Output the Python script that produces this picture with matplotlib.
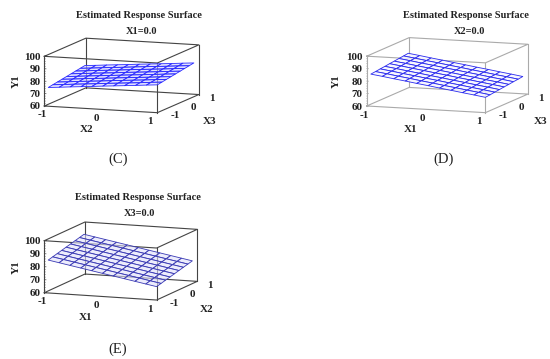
#!/usr/bin/env python3
# Estimated response surfaces, panels C, D, E
import numpy as np
import matplotlib
matplotlib.use("Agg")
import matplotlib.pyplot as plt
from mpl_toolkits.mplot3d import proj3d

plt.rcParams['font.family'] = ['Liberation Serif', 'DejaVu Serif']

W, H = 550, 359

# Grid of the fitted surface (coded factors)
grid_first = np.linspace(-0.93, 1, 11)
grid_second = np.linspace(-1, 0.76, 9)

# Y1, one row per step of the second factor
Y1_C = [[75.1, 75.8, 76.6, 77.3, 78.0, 78.8, 79.5, 80.2, 80.9, 81.7, 82.4],
        [75.7, 76.4, 77.2, 77.9, 78.6, 79.4, 80.1, 80.8, 81.5, 82.3, 83.0],
        [76.3, 77.0, 77.8, 78.5, 79.2, 80.0, 80.7, 81.4, 82.1, 82.9, 83.6],
        [76.9, 77.6, 78.4, 79.1, 79.8, 80.6, 81.3, 82.0, 82.7, 83.5, 84.2],
        [77.5, 78.2, 79.0, 79.7, 80.4, 81.2, 81.9, 82.6, 83.3, 84.1, 84.8],
        [78.1, 78.8, 79.6, 80.3, 81.0, 81.8, 82.5, 83.2, 83.9, 84.7, 85.4],
        [78.7, 79.4, 80.2, 80.9, 81.6, 82.4, 83.1, 83.8, 84.5, 85.3, 86.0],
        [79.3, 80.0, 80.8, 81.5, 82.2, 83.0, 83.7, 84.4, 85.1, 85.9, 86.6],
        [79.9, 80.6, 81.4, 82.1, 82.8, 83.6, 84.3, 85.0, 85.7, 86.5, 87.2]]

Y1_D = [[85.8, 84.5, 83.1, 81.8, 80.4, 79.1, 77.7, 76.4, 75.0, 73.7, 72.3],
        [86.2, 84.9, 83.5, 82.2, 80.8, 79.5, 78.1, 76.8, 75.4, 74.1, 72.7],
        [86.7, 85.4, 84.0, 82.7, 81.3, 80.0, 78.6, 77.3, 75.9, 74.6, 73.2],
        [87.1, 85.8, 84.4, 83.1, 81.7, 80.4, 79.0, 77.7, 76.3, 75.0, 73.6],
        [87.6, 86.3, 84.9, 83.6, 82.2, 80.9, 79.5, 78.2, 76.8, 75.5, 74.1],
        [88.0, 86.7, 85.3, 84.0, 82.6, 81.3, 79.9, 78.6, 77.2, 75.9, 74.5],
        [88.5, 87.2, 85.8, 84.5, 83.1, 81.8, 80.4, 79.1, 77.7, 76.4, 75.0],
        [88.9, 87.6, 86.2, 84.9, 83.5, 82.2, 80.8, 79.5, 78.1, 76.8, 75.4],
        [89.4, 88.1, 86.7, 85.4, 84.0, 82.7, 81.3, 80.0, 78.6, 77.3, 75.9]]

Y1_E = [[85.3, 83.8, 82.3, 80.8, 79.3, 77.8, 76.3, 74.8, 73.3, 71.8, 70.3],
        [86.2, 84.7, 83.2, 81.7, 80.2, 78.7, 77.2, 75.7, 74.2, 72.7, 71.2],
        [87.1, 85.6, 84.1, 82.6, 81.1, 79.6, 78.1, 76.6, 75.1, 73.6, 72.1],
        [88.0, 86.5, 85.0, 83.5, 82.0, 80.5, 79.0, 77.5, 76.0, 74.5, 73.0],
        [88.9, 87.4, 85.9, 84.4, 82.9, 81.4, 79.9, 78.4, 76.9, 75.4, 73.9],
        [89.8, 88.3, 86.8, 85.3, 83.8, 82.3, 80.8, 79.3, 77.8, 76.3, 74.8],
        [90.7, 89.2, 87.7, 86.2, 84.7, 83.2, 81.7, 80.2, 78.7, 77.2, 75.7],
        [91.6, 90.1, 88.6, 87.1, 85.6, 84.1, 82.6, 81.1, 79.6, 78.1, 76.6],
        [92.5, 91.0, 89.5, 88.0, 86.5, 85.0, 83.5, 82.0, 80.5, 79.0, 77.5]]

ticks_first = [-1, 0, 1]
ticks_second = [-1, 0, 1]
ticks_y1 = [60, 70, 80, 90, 100]


def to_px(ax, x, y, z):
    px, py, _ = proj3d.proj_transform(x, y, z, ax.get_proj())
    return ax.transData.transform((px, py))


def panel(values, front_left, width_px, elev, azim, aspect, fill, mesh, box):
    ax = fig.add_axes([0, 0, 320 / W, 320 / H], projection='3d',
                      proj_type='ortho', computed_zorder=False)
    ax.set_xlim(-1, 1)
    ax.set_ylim(-1, 1)
    ax.set_zlim(60, 100)
    ax.view_init(elev=elev, azim=azim)
    ax.set_axis_off()
    ax.patch.set_visible(False)

    # scale and shift so the front left corner lands where it should
    ax.set_box_aspect(aspect, zoom=1)
    ax.apply_aspect()
    measured = to_px(ax, 1, -1, 60)[0] - to_px(ax, -1, -1, 60)[0]
    ax.set_box_aspect(aspect, zoom=width_px / measured)
    ax.apply_aspect()
    corner = to_px(ax, -1, -1, 60)
    ax.set_position([(front_left[0] - corner[0]) / W,
                     (H - front_left[1] - corner[1]) / H, 320 / W, 320 / H])
    ax.apply_aspect()

    # box edges
    for z in (60, 100):
        ax.plot([-1, 1, 1, -1, -1], [-1, -1, 1, 1, -1], [z] * 5, color=box, lw=0.8, zorder=1)
    for x, y in [(-1, -1), (1, -1), (1, 1), (-1, 1)]:
        ax.plot([x, x], [y, y], [60, 100], color=box, lw=0.8, zorder=1)

    # small ticks on the Y1 edge
    for z in np.arange(60, 101, 2):
        length = 0.03 if z % 10 == 0 else 0.015
        ax.plot([-1, -1 + length], [-1, -1], [z, z], color=box, lw=0.5, zorder=1)

    X, Y = np.meshgrid(grid_first, grid_second)
    ax.plot_surface(X, Y, np.array(values), rstride=1, cstride=1, color=fill,
                    edgecolor=mesh, linewidth=0.6, shade=False, zorder=2)

    def label(x, y, z, text, dx, dy, ha='center'):
        ax.annotate(text, xy=proj3d.proj_transform(x, y, z, ax.get_proj())[:2], xycoords='data',
                    xytext=(dx, dy), textcoords='offset pixels', ha=ha, va='center',
                    fontsize=8, fontweight='bold', color='#222222', annotation_clip=False)

    for t, dx in zip(ticks_first, (-2, -4, -7)):
        label(t, -1, 60, str(t), dx, -9)
    for t, dx, dy in zip(ticks_second, (18, 15, 13), (-3, -4, -4)):
        label(1, t, 60, str(t), dx, dy)
    for t in ticks_y1:
        label(-1, -1, t, str(t), -4, -1, ha='right')
    return ax


def put(x, y, text, size=8, weight='bold', rotation=0):
    fig.text(x / W, 1 - y / H, text, fontsize=size, fontweight=weight, rotation=rotation,
             ha='center', va='center', color='#222222')


fig = plt.figure(figsize=(W / 100, H / 100), dpi=100)

panel(Y1_C, (44.3, 106), 113, 9.24, -69.8, (1, 1, 0.418), (0.8, 0.8, 1, 0.6), '#2a2aff', '#444444')
panel(Y1_D, (366.7, 106), 118.7, 9.0, -70.3, (1, 1, 0.40), (0.96, 0.96, 1, 0.85), '#2a2aee', '#aaaaaa')
panel(Y1_E, (44.3, 292.7), 112.3, 9.97, -69.35, (1, 0.96, 0.44), (0.88, 0.88, 0.98, 0.6), '#3a3ab4', '#444444')

put(139, 16, "Estimated Response Surface", size=7.5)
put(142, 31, "X1=0.0", size=7.5)
put(87, 130, "X2")
put(210, 121, "X3")
put(16, 81, "Y1", rotation=90)
put(118, 159, "(C)", size=10.5, weight='normal')

put(466, 15, "Estimated Response Surface", size=7.5)
put(469, 31, "X2=0.0", size=7.5)
put(411, 130, "X1")
put(541, 121, "X3")
put(336, 81, "Y1", rotation=90)
put(444, 159, "(D)", size=10.5, weight='normal')

put(138, 197, "Estimated Response Surface", size=7.5)
put(140, 214, "X3=0.0", size=7.5)
put(86, 318, "X1")
put(207, 309, "X2")
put(16, 267, "Y1", rotation=90)
put(118, 349, "(E)", size=10.5, weight='normal')

fig.savefig("out.png", dpi=100)
